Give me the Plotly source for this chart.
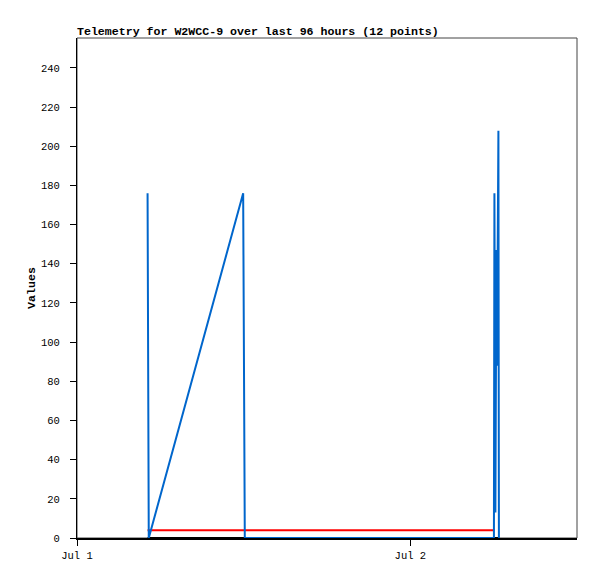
import plotly.graph_objects as go

# Blue channel (time stamps as datetimes, values)
blue_times = [
    "2024-07-01 05:04:52", "2024-07-01 05:07:00", "2024-07-01 05:10:00",
    "2024-07-01 11:57:50", "2024-07-01 11:59:40", "2024-07-01 12:01:50",
    "2024-07-01 12:04:50",
    "2024-07-02 06:01:05", "2024-07-02 06:03:15", "2024-07-02 06:07:30",
    "2024-07-02 06:11:50", "2024-07-02 06:14:30", "2024-07-02 06:20:30",
    "2024-07-02 06:22:40",
]
blue_values = [176, 88, 0, 176, 132, 44, 0, 0, 176, 13, 147, 88, 208, 0]

red_times = ["2024-07-01 05:04:52", "2024-07-02 06:03:15"]
red_values = [4, 4]

black_times = ["2024-07-01 05:04:52", "2024-07-02 06:22:40"]
black_values = [0, 0]

y_ticks = list(range(0, 241, 20))
x_range = ["2024-07-01 00:00:00", "2024-07-02 12:00:00"]

fig = go.Figure()
fig.add_trace(go.Scatter(x=black_times, y=black_values, mode="lines",
                         line=dict(color="#000000", width=2), showlegend=False))
fig.add_trace(go.Scatter(x=red_times, y=red_values, mode="lines",
                         line=dict(color="#ff0000", width=2), showlegend=False))
fig.add_trace(go.Scatter(x=blue_times, y=blue_values, mode="lines",
                         line=dict(color="#0066cc", width=2), showlegend=False))

mono = "Liberation Mono, DejaVu Sans Mono, monospace"
W, H = 589, 571

fig.update_layout(
    width=W, height=H,
    margin=dict(l=69, r=20, t=30, b=41),
    paper_bgcolor="white", plot_bgcolor="white",
    font=dict(family=mono, size=10, color="#000000"),
    title=dict(text="<b>Telemetry for W2WCC-9 over last 96 hours (12 points)</b>",
               x=69/W, xanchor="left", xref="container",
               y=1 - 23/H, yanchor="middle", yref="container",
               font=dict(family=mono, size=11.6, color="#000000")),
    xaxis=dict(range=x_range, type="date", showgrid=False, zeroline=False,
               tickformat="%b %-d", dtick=86400000, tick0="2024-07-01",
               ticks="outside", ticklen=6, tickcolor="#000000",
               showline=True, linecolor="#000000", linewidth=2, mirror=False,
               ticklabelstandoff=0,
               tickfont=dict(family=mono, size=10.5)),
    yaxis=dict(range=[0, 255.3], showgrid=False, zeroline=False,
               tickvals=y_ticks, ticks="outside", ticklen=6, tickcolor="#000000",
               showline=True, linecolor="#000000", linewidth=1,
               ticklabelstandoff=8,
               title=dict(text="<b>Values</b>", font=dict(family=mono, size=11.6),
                          standoff=2),
               tickfont=dict(family=mono, size=10.5)),
    shapes=[dict(type="rect", xref="paper", yref="paper", x0=0, x1=1, y0=0, y1=1,
                 line=dict(color="#444444", width=1), layer="below")],
)

fig.write_html("out.html")
